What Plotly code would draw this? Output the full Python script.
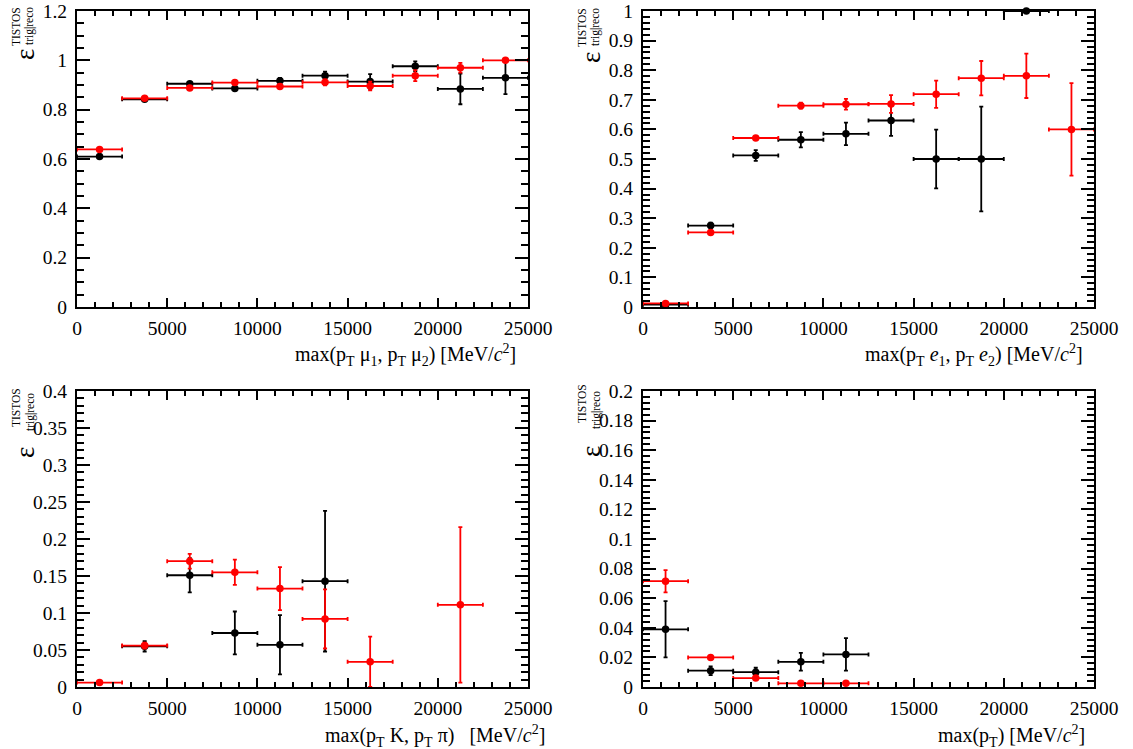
import plotly.graph_objects as go

W, H = 1133, 749

# ---------------- data ----------------
bin_centers = [1250, 3750, 6250, 8750, 11250, 13750, 16250, 18750, 21250, 23750]
bin_half = [1250] * 10

# panel 1: max(pT mu1, pT mu2)
mu_black = [0.610, 0.842, 0.905, 0.886, 0.917, 0.938, 0.914, 0.976, 0.884, 0.929]
mu_black_err = [0.006, 0.006, 0.006, 0.006, 0.012, 0.016, 0.030, 0.020, 0.062, 0.066]
mu_red = [0.639, 0.846, 0.888, 0.910, 0.894, 0.911, 0.896, 0.938, 0.970, 1.000]
mu_red_err = [0.004, 0.004, 0.006, 0.006, 0.008, 0.012, 0.018, 0.022, 0.020, 0.0]

# panel 2: max(pT e1, pT e2)
e_black = [0.008, 0.275, 0.512, 0.565, 0.585, 0.630, 0.500, 0.500, 1.000, None]
e_black_err = [0.003, 0.010, 0.018, 0.026, 0.038, 0.052, 0.099, 0.177, 0.0, None]
e_red = [0.012, 0.252, 0.571, 0.680, 0.685, 0.686, 0.719, 0.773, 0.781, 0.600]
e_red_err = [0.003, 0.005, 0.005, 0.010, 0.018, 0.030, 0.046, 0.058, 0.075, 0.156]

# panel 3: max(pT K, pT pi)
h_black = [None, 0.055, 0.151, 0.073, 0.057, 0.143, None, None, None, None]
h_black_err = [None, 0.007, 0.023, 0.029, 0.040, 0.095, None, None, None, None]
h_red = [0.006, 0.056, 0.170, 0.155, 0.133, 0.092, 0.034, None, 0.111, None]
h_red_err = [0.002, 0.004, 0.010, 0.017, 0.029, 0.040, 0.034, None, 0.105, None]

# panel 4: max(pT)
p_black = [0.039, 0.011, 0.010, 0.017, 0.022, None, None, None, None, None]
p_black_err = [0.019, 0.003, 0.003, 0.006, 0.011, None, None, None, None, None]
p_red = [0.0715, 0.020, 0.006, 0.0025, 0.0025, None, None, None, None, None]
p_red_err = [0.0075, 0.0008, 0.0008, 0.0005, 0.0005, None, None, None, None, None]

x_titles = [
    "max(p<sub>T</sub> μ<sub>1</sub>, p<sub>T</sub> μ<sub>2</sub>) [MeV/<i>c</i><sup>2</sup>]",
    "max(p<sub>T</sub> <i>e</i><sub>1</sub>, p<sub>T</sub> <i>e</i><sub>2</sub>) [MeV/<i>c</i><sup>2</sup>]",
    "max(p<sub>T</sub> K,&nbsp;p<sub>T</sub> π)&nbsp;&nbsp; [MeV/<i>c</i><sup>2</sup>]",
    "max(p<sub>T</sub>) [MeV/<i>c</i><sup>2</sup>]",
]
y_ranges = [[0, 1.2], [0, 1.0], [0, 0.4], [0, 0.2]]
y_dticks = [0.2, 0.1, 0.05, 0.02]
y_minor = [0.05, 0.02, 0.01, 0.004]

FONT = "Liberation Serif, Times New Roman, serif"
BLACK = "#000000"
RED = "#ff0000"

# ---------------- layout geometry (pixels) ----------------
cols = [(77, 528), (643, 1094)]
rows = [(11, 307), (391, 687)]


def px_x(v):
    return v / W


def px_y(v):
    return 1 - v / H


fig = go.Figure()

panels = [
    (mu_black, mu_black_err, mu_red, mu_red_err),
    (e_black, e_black_err, e_red, e_red_err),
    (h_black, h_black_err, h_red, h_red_err),
    (p_black, p_black_err, p_red, p_red_err),
]


def add_series(ys, errs, color, idx):
    xs, yv, ev, hv = [], [], [], []
    for c, h, y, e in zip(bin_centers, bin_half, ys, errs):
        if y is None:
            continue
        xs.append(c)
        yv.append(y)
        ev.append(e)
        hv.append(h)
    suffix = "" if idx == 0 else str(idx + 1)
    fig.add_trace(go.Scatter(
        x=xs, y=yv, mode="markers",
        xaxis="x" + suffix, yaxis="y" + suffix,
        marker=dict(color=color, size=7.5, symbol="circle"),
        error_x=dict(type="data", array=hv, color=color, thickness=1.8, width=2),
        error_y=dict(type="data", array=ev, color=color, thickness=1.8, width=2),
        cliponaxis=False, showlegend=False,
    ))


for i, (yb, eb, yr, er) in enumerate(panels):
    add_series(yb, eb, BLACK, i)
    add_series(yr, er, RED, i)

layout = dict(
    width=W, height=H,
    margin=dict(l=0, r=0, t=0, b=0, autoexpand=False),
    paper_bgcolor="white", plot_bgcolor="white",
    font=dict(family=FONT, size=19.5, color="black"),
    showlegend=False,
)

annotations = []
for i in range(4):
    r, c = divmod(i, 2)
    x0, x1 = cols[c]
    y0, y1 = rows[r]
    suffix = "" if i == 0 else str(i + 1)
    xa = "xaxis" + suffix
    ya = "yaxis" + suffix
    layout[xa] = dict(
        domain=[px_x(x0), px_x(x1)], anchor="y" + suffix,
        range=[0, 25000], dtick=5000, tick0=0, tickformat="d",
        ticks="inside", ticklen=9, tickwidth=1.5, tickcolor="black",
        minor=dict(dtick=1000, ticks="inside", ticklen=5, tickwidth=1.5, tickcolor="black"),
        showline=True, linewidth=2, linecolor="black", mirror="allticks",
        showgrid=False, zeroline=False, automargin=False,
        tickfont=dict(family=FONT, size=19.5),
        ticklabelstandoff=3,
    )
    layout[ya] = dict(
        domain=[px_y(y1), px_y(y0)], anchor="x" + suffix,
        range=y_ranges[i], dtick=y_dticks[i], tick0=0,
        ticks="inside", ticklen=13, tickwidth=1.5, tickcolor="black",
        minor=dict(dtick=y_minor[i], ticks="inside", ticklen=7, tickwidth=1.5, tickcolor="black"),
        showline=True, linewidth=2, linecolor="black", mirror="allticks",
        showgrid=False, zeroline=False, automargin=False,
        tickfont=dict(family=FONT, size=19.5),
        ticklabelstandoff=4,
    )
    # x-axis title, right aligned as in ROOT
    title_right = [518, 1085, 547, 1087][i]
    title_y = [355, 355, 736, 736][i]
    annotations.append(dict(
        text=x_titles[i], xref="paper", yref="paper",
        x=px_x(title_right), y=px_y(title_y), xanchor="right", yanchor="middle",
        showarrow=False, font=dict(family=FONT, size=20),
    ))
    # y-axis title: epsilon with stacked super/subscripts (rotated)
    eps_y = [55, 58, 453, 452][i]
    sup_y = [27, 28, 408, 404][i]
    sub_y = [26, 27, 412, 410][i]
    annotations.append(dict(
        text="ε", xref="paper", yref="paper", textangle=-90,
        x=px_x(x0 - 52), y=px_y(eps_y), xanchor="center", yanchor="middle",
        showarrow=False, font=dict(family=FONT, size=27),
    ))
    annotations.append(dict(
        text="TISTOS", xref="paper", yref="paper", textangle=-90,
        x=px_x(x0 - 61), y=px_y(sup_y), xanchor="center", yanchor="middle",
        showarrow=False, font=dict(family=FONT, size=11.5),
    ))
    annotations.append(dict(
        text="trig|reco", xref="paper", yref="paper", textangle=-90,
        x=px_x(x0 - 47), y=px_y(sub_y), xanchor="center", yanchor="middle",
        showarrow=False, font=dict(family=FONT, size=11.5),
    ))

layout["annotations"] = annotations
fig.update_layout(**layout)
fig.write_html(
    "out.html",
    config={"displayModeBar": False},
    post_script="document.body.style.margin='0';document.body.style.overflow='hidden';",
)
